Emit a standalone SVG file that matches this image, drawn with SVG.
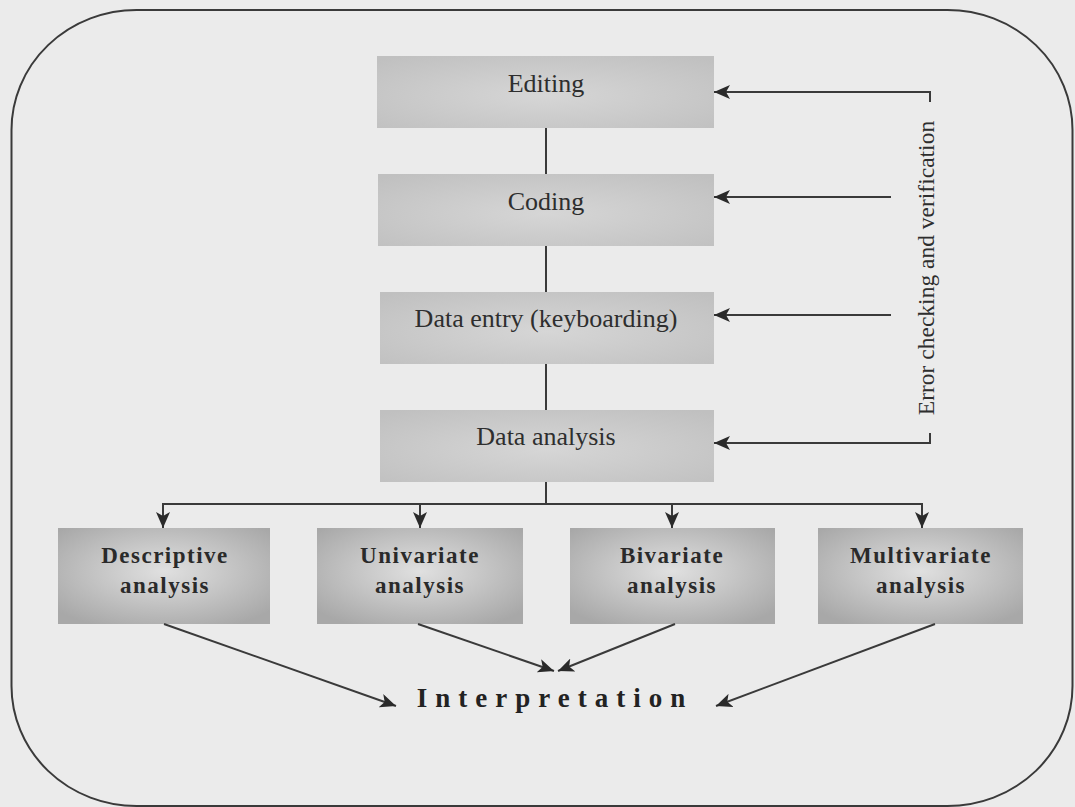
<svg xmlns="http://www.w3.org/2000/svg" width="1075" height="807" viewBox="0 0 1075 807">
  <style>
    .frame { fill: none; stroke: #3a3a3a; stroke-width: 2; }
    .step { fill: url(#stepFill); }
    .method { fill: url(#methodFill); }
    .label { font-family: "Liberation Serif", "Times New Roman", serif; font-size: 26px; fill: #2e2e2e; text-anchor: middle; }
    .side { font-family: "Liberation Serif", "Times New Roman", serif; font-size: 23.5px; fill: #2e2e2e; text-anchor: middle; }
    .bold { font-family: "Liberation Serif", "Times New Roman", serif; font-size: 23px; font-weight: bold; fill: #2a2a2a; text-anchor: middle; letter-spacing: 1.5px; }
    .wire { fill: none; stroke: #3a3a3a; stroke-width: 2; }
  </style>
  <defs>
    <radialGradient id="stepFill" cx="50%" cy="55%" r="70%">
      <stop offset="0" stop-color="#d6d6d6"/>
      <stop offset="1" stop-color="#c0c0c0"/>
    </radialGradient>
    <radialGradient id="methodFill" cx="50%" cy="45%" r="65%">
      <stop offset="0" stop-color="#e0e0e0"/>
      <stop offset="1" stop-color="#a8a8a8"/>
    </radialGradient>
    <marker id="head" markerUnits="userSpaceOnUse" markerWidth="18" markerHeight="14" refX="16" refY="7" orient="auto">
      <path d="M0,0 L16,7 L0,14 L4,7 Z" fill="#2a2a2a"/>
    </marker>
  </defs>

  <rect width="1075" height="807" fill="#ebebeb"/>

  <!-- outer rounded frame -->
  <rect class="frame" x="11.5" y="10" width="1061" height="796" rx="125" ry="120"/>

  <g id="editing">
    <rect class="step" x="377" y="56" width="337" height="72"/>
    <text class="label" x="546" y="92">Editing</text>
  </g>
  <g id="coding">
    <rect class="step" x="378" y="174" width="336" height="72"/>
    <text class="label" x="546" y="210">Coding</text>
  </g>
  <g id="data-entry">
    <rect class="step" x="380" y="292" width="334" height="72"/>
    <text class="label" x="546" y="327">Data entry (keyboarding)</text>
  </g>
  <g id="data-analysis">
    <rect class="step" x="380" y="410" width="334" height="72"/>
    <text class="label" x="546" y="445">Data analysis</text>
  </g>

  <g id="descriptive">
    <rect class="method" x="58" y="528" width="212" height="96"/>
    <text class="bold" x="165" y="563">Descriptive</text>
    <text class="bold" x="165" y="593">analysis</text>
  </g>
  <g id="univariate">
    <rect class="method" x="317" y="528" width="206" height="96"/>
    <text class="bold" x="420" y="563">Univariate</text>
    <text class="bold" x="420" y="593">analysis</text>
  </g>
  <g id="bivariate">
    <rect class="method" x="570" y="528" width="205" height="96"/>
    <text class="bold" x="672" y="563">Bivariate</text>
    <text class="bold" x="672" y="593">analysis</text>
  </g>
  <g id="multivariate">
    <rect class="method" x="818" y="528" width="205" height="96"/>
    <text class="bold" x="921" y="563">Multivariate</text>
    <text class="bold" x="921" y="593">analysis</text>
  </g>

  <g id="interpretation">
    <text x="555" y="707" font-family="'Liberation Serif', 'Times New Roman', serif" font-size="27" font-weight="bold" fill="#222" text-anchor="middle" letter-spacing="8">Interpretation</text>
  </g>

  <g id="error-check">
    <text class="side" transform="translate(934,268) rotate(-90)">Error checking and verification</text>
  </g>

  <g id="connectors">
    <!-- main sequence -->
    <path class="wire" d="M546,128 V174 M546,246 V292 M546,364 V410 M546,482 V504"/>
    <!-- fan-out bus -->
    <path class="wire" d="M163,504 H922"/>
    <path class="wire" d="M163,503 V528" marker-end="url(#head)"/>
    <path class="wire" d="M420,503 V528" marker-end="url(#head)"/>
    <path class="wire" d="M672,503 V528" marker-end="url(#head)"/>
    <path class="wire" d="M922,503 V528" marker-end="url(#head)"/>
    <!-- feedback loop -->
    <path class="wire" d="M930,102 V92 H714" marker-end="url(#head)"/>
    <path class="wire" d="M891,197 H714" marker-end="url(#head)"/>
    <path class="wire" d="M891,315 H714" marker-end="url(#head)"/>
    <path class="wire" d="M930,433 V443 H714" marker-end="url(#head)"/>
    <!-- convergence -->
    <path class="wire" d="M164,624 L396,706" marker-end="url(#head)"/>
    <path class="wire" d="M418,624 L554,671" marker-end="url(#head)"/>
    <path class="wire" d="M675,624 L558,671" marker-end="url(#head)"/>
    <path class="wire" d="M935,624 L716,706" marker-end="url(#head)"/>
  </g>
</svg>
